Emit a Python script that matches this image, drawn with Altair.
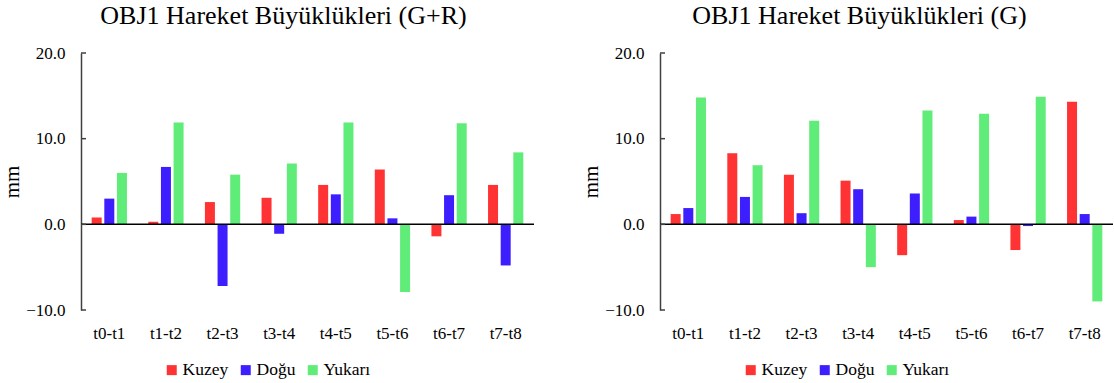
import altair as alt
import pandas as pd

categories = ["t0-t1", "t1-t2", "t2-t3", "t3-t4", "t4-t5", "t5-t6", "t6-t7", "t7-t8"]
series_names = ["Kuzey", "Doğu", "Yukarı"]
series_colors = ["#FF3333", "#3C1EFF", "#60EC78"]
y_ticks = [-10, 0, 10, 20]

# OBJ1 Hareket Büyüklükleri (G+R)
gr_kuzey = [0.8, 0.3, 2.6, 3.1, 4.6, 6.4, -1.4, 4.6]
gr_dogu = [3.0, 6.7, -7.2, -1.1, 3.5, 0.7, 3.4, -4.8]
gr_yukari = [6.0, 11.9, 5.8, 7.1, 11.9, -7.9, 11.8, 8.4]

# OBJ1 Hareket Büyüklükleri (G)
g_kuzey = [1.2, 8.3, 5.8, 5.1, -3.6, 0.5, -3.0, 14.3]
g_dogu = [1.9, 3.2, 1.3, 4.1, 3.6, 0.9, -0.2, 1.2]
g_yukari = [14.8, 6.9, 12.1, -5.0, 13.3, 12.9, 14.9, -9.0]

FONT = "Liberation Serif"
W, H = 453, 257


def panel(title, kuzey, dogu, yukari, title_dx):
    rows = []
    for name, vals in zip(series_names, [kuzey, dogu, yukari]):
        for c, v in zip(categories, vals):
            rows.append({"cat": c, "series": name, "value": v})
    df = pd.DataFrame(rows)

    bars = alt.Chart(df).mark_bar(width=10).encode(
        x=alt.X("cat:N", sort=categories,
                scale=alt.Scale(paddingInner=0.33, paddingOuter=0.165),
                axis=alt.Axis(title=None, domain=False, ticks=False, labelAngle=0,
                              labelPadding=15, labelFontSize=17, labelFont=FONT)),
        xOffset=alt.XOffset("series:N", sort=series_names,
                            scale=alt.Scale(paddingInner=0, paddingOuter=0)),
        y=alt.Y("value:Q",
                scale=alt.Scale(domain=[-10, 20], nice=False, zero=False),
                axis=alt.Axis(title="mm", values=y_ticks, format=".1f", tickSize=0,
                              grid=False, domainColor="#404040", domainWidth=1.5,
                              labelFontSize=17, labelPadding=16, labelFont=FONT,
                              titleFontSize=21, titleFontWeight="normal",
                              titlePadding=3)),
        color=alt.Color("series:N", sort=series_names,
                        scale=alt.Scale(domain=series_names, range=series_colors),
                        legend=alt.Legend(title=None, orient="none", direction="horizontal",
                                          legendX=82, legendY=308, padding=0,
                                          symbolType="square", symbolSize=100,
                                          symbolStrokeWidth=0, labelFont=FONT,
                                          labelFontSize=17.5, labelOffset=2,
                                          columnPadding=8)),
    )

    zero = alt.Chart(pd.DataFrame({"z": [0]})).mark_rule(
        color="#000000", strokeWidth=1.5).encode(y="z:Q")
    ticks = alt.Chart(pd.DataFrame({"t": y_ticks})).mark_rule(
        color="#404040", strokeWidth=1.5).encode(
        y="t:Q", x=alt.value(0), x2=alt.value(5))

    return alt.layer(bars, zero, ticks).properties(
        width=W, height=H,
        title=alt.TitleParams(title, fontSize=26, fontWeight="normal",
                              anchor="middle", dx=title_dx, offset=15),
    )


left = panel("OBJ1 Hareket Büyüklükleri (G+R)", gr_kuzey, gr_dogu, gr_yukari, -24)
right = panel("OBJ1 Hareket Büyüklükleri (G)", g_kuzey, g_dogu, g_yukari, -27)

chart = alt.hconcat(left, right, spacing=45).resolve_scale(
    color="independent").resolve_legend(color="independent").properties(
    padding={"left": 1, "top": 3, "right": 0, "bottom": 0}
).configure_view(stroke=None).configure_axis(
    titleFont=FONT, labelColor="#000000", titleColor="#000000"
).configure_legend(labelColor="#000000").configure_title(
    font=FONT, color="#000000")

chart.save("out.html", embed_options={"renderer": "svg", "actions": False})
